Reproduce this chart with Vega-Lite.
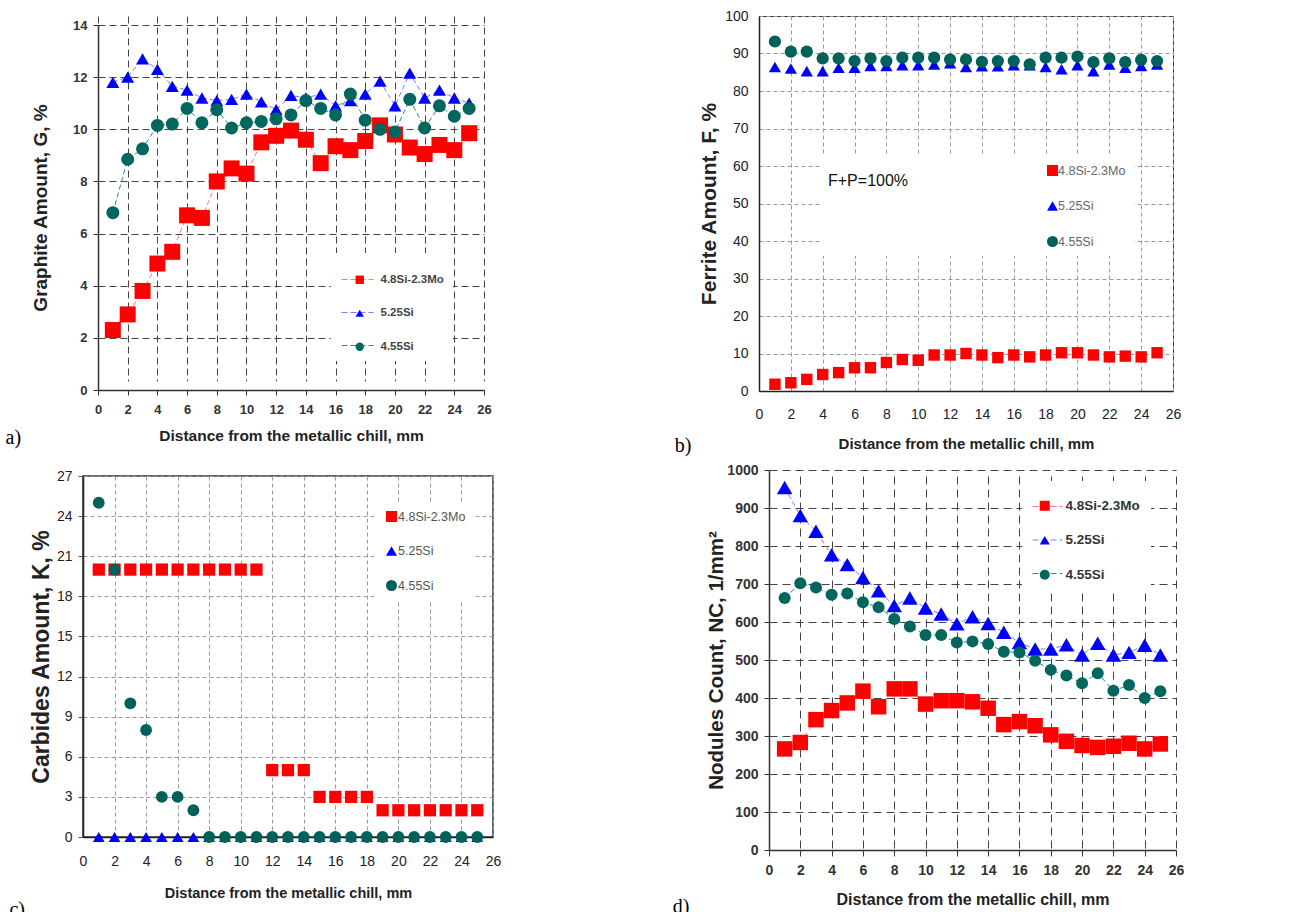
{
  "$schema": "https://vega.github.io/schema/vega-lite/v6.json",
  "background": "white",
  "padding": {"left": 5, "top": 8, "right": 0, "bottom": 0},
  "datasets": {
    "ga": [
      {"d":1,"s":"4.8Si-2.3Mo","v":2.3},{"d":2,"s":"4.8Si-2.3Mo","v":2.9},{"d":3,"s":"4.8Si-2.3Mo","v":3.8},{"d":4,"s":"4.8Si-2.3Mo","v":4.85},{"d":5,"s":"4.8Si-2.3Mo","v":5.3},{"d":6,"s":"4.8Si-2.3Mo","v":6.7},{"d":7,"s":"4.8Si-2.3Mo","v":6.6},{"d":8,"s":"4.8Si-2.3Mo","v":8.0},{"d":9,"s":"4.8Si-2.3Mo","v":8.5},{"d":10,"s":"4.8Si-2.3Mo","v":8.3},{"d":11,"s":"4.8Si-2.3Mo","v":9.5},{"d":12,"s":"4.8Si-2.3Mo","v":9.75},{"d":13,"s":"4.8Si-2.3Mo","v":9.95},{"d":14,"s":"4.8Si-2.3Mo","v":9.6},{"d":15,"s":"4.8Si-2.3Mo","v":8.7},{"d":16,"s":"4.8Si-2.3Mo","v":9.35},{"d":17,"s":"4.8Si-2.3Mo","v":9.2},{"d":18,"s":"4.8Si-2.3Mo","v":9.55},{"d":19,"s":"4.8Si-2.3Mo","v":10.15},{"d":20,"s":"4.8Si-2.3Mo","v":9.8},{"d":21,"s":"4.8Si-2.3Mo","v":9.3},{"d":22,"s":"4.8Si-2.3Mo","v":9.05},{"d":23,"s":"4.8Si-2.3Mo","v":9.4},{"d":24,"s":"4.8Si-2.3Mo","v":9.2},{"d":25,"s":"4.8Si-2.3Mo","v":9.85},
      {"d":1,"s":"5.25Si","v":11.8},{"d":2,"s":"5.25Si","v":12.0},{"d":3,"s":"5.25Si","v":12.7},{"d":4,"s":"5.25Si","v":12.3},{"d":5,"s":"5.25Si","v":11.65},{"d":6,"s":"5.25Si","v":11.5},{"d":7,"s":"5.25Si","v":11.2},{"d":8,"s":"5.25Si","v":11.1},{"d":9,"s":"5.25Si","v":11.15},{"d":10,"s":"5.25Si","v":11.35},{"d":11,"s":"5.25Si","v":11.05},{"d":12,"s":"5.25Si","v":10.75},{"d":13,"s":"5.25Si","v":11.3},{"d":14,"s":"5.25Si","v":11.2},{"d":15,"s":"5.25Si","v":11.35},{"d":16,"s":"5.25Si","v":10.9},{"d":17,"s":"5.25Si","v":11.1},{"d":18,"s":"5.25Si","v":11.35},{"d":19,"s":"5.25Si","v":11.85},{"d":20,"s":"5.25Si","v":10.9},{"d":21,"s":"5.25Si","v":12.15},{"d":22,"s":"5.25Si","v":11.2},{"d":23,"s":"5.25Si","v":11.5},{"d":24,"s":"5.25Si","v":11.2},{"d":25,"s":"5.25Si","v":11.0},
      {"d":1,"s":"4.55Si","v":6.8},{"d":2,"s":"4.55Si","v":8.85},{"d":3,"s":"4.55Si","v":9.25},{"d":4,"s":"4.55Si","v":10.15},{"d":5,"s":"4.55Si","v":10.2},{"d":6,"s":"4.55Si","v":10.8},{"d":7,"s":"4.55Si","v":10.25},{"d":8,"s":"4.55Si","v":10.75},{"d":9,"s":"4.55Si","v":10.05},{"d":10,"s":"4.55Si","v":10.25},{"d":11,"s":"4.55Si","v":10.3},{"d":12,"s":"4.55Si","v":10.4},{"d":13,"s":"4.55Si","v":10.55},{"d":14,"s":"4.55Si","v":11.1},{"d":15,"s":"4.55Si","v":10.8},{"d":16,"s":"4.55Si","v":10.55},{"d":17,"s":"4.55Si","v":11.35},{"d":18,"s":"4.55Si","v":10.35},{"d":19,"s":"4.55Si","v":10.0},{"d":20,"s":"4.55Si","v":9.9},{"d":21,"s":"4.55Si","v":11.15},{"d":22,"s":"4.55Si","v":10.05},{"d":23,"s":"4.55Si","v":10.9},{"d":24,"s":"4.55Si","v":10.5},{"d":25,"s":"4.55Si","v":10.8}
    ],
    "fe": [
      {"d":1,"s":"4.8Si-2.3Mo","v":1.8},{"d":2,"s":"4.8Si-2.3Mo","v":2.2},{"d":3,"s":"4.8Si-2.3Mo","v":3.1},{"d":4,"s":"4.8Si-2.3Mo","v":4.4},{"d":5,"s":"4.8Si-2.3Mo","v":4.9},{"d":6,"s":"4.8Si-2.3Mo","v":6.2},{"d":7,"s":"4.8Si-2.3Mo","v":6.2},{"d":8,"s":"4.8Si-2.3Mo","v":7.6},{"d":9,"s":"4.8Si-2.3Mo","v":8.4},{"d":10,"s":"4.8Si-2.3Mo","v":8.2},{"d":11,"s":"4.8Si-2.3Mo","v":9.6},{"d":12,"s":"4.8Si-2.3Mo","v":9.6},{"d":13,"s":"4.8Si-2.3Mo","v":10.0},{"d":14,"s":"4.8Si-2.3Mo","v":9.6},{"d":15,"s":"4.8Si-2.3Mo","v":8.9},{"d":16,"s":"4.8Si-2.3Mo","v":9.6},{"d":17,"s":"4.8Si-2.3Mo","v":9.1},{"d":18,"s":"4.8Si-2.3Mo","v":9.6},{"d":19,"s":"4.8Si-2.3Mo","v":10.2},{"d":20,"s":"4.8Si-2.3Mo","v":10.2},{"d":21,"s":"4.8Si-2.3Mo","v":9.6},{"d":22,"s":"4.8Si-2.3Mo","v":9.1},{"d":23,"s":"4.8Si-2.3Mo","v":9.3},{"d":24,"s":"4.8Si-2.3Mo","v":9.1},{"d":25,"s":"4.8Si-2.3Mo","v":10.2},
      {"d":1,"s":"5.25Si","v":86.4},{"d":2,"s":"5.25Si","v":86.0},{"d":3,"s":"5.25Si","v":85.3},{"d":4,"s":"5.25Si","v":85.3},{"d":5,"s":"5.25Si","v":86.2},{"d":6,"s":"5.25Si","v":86.2},{"d":7,"s":"5.25Si","v":86.7},{"d":8,"s":"5.25Si","v":86.7},{"d":9,"s":"5.25Si","v":86.9},{"d":10,"s":"5.25Si","v":86.9},{"d":11,"s":"5.25Si","v":87.1},{"d":12,"s":"5.25Si","v":87.4},{"d":13,"s":"5.25Si","v":86.4},{"d":14,"s":"5.25Si","v":86.6},{"d":15,"s":"5.25Si","v":86.6},{"d":16,"s":"5.25Si","v":86.9},{"d":17,"s":"5.25Si","v":86.9},{"d":18,"s":"5.25Si","v":86.4},{"d":19,"s":"5.25Si","v":85.8},{"d":20,"s":"5.25Si","v":86.9},{"d":21,"s":"5.25Si","v":85.3},{"d":22,"s":"5.25Si","v":87.1},{"d":23,"s":"5.25Si","v":86.2},{"d":24,"s":"5.25Si","v":86.7},{"d":25,"s":"5.25Si","v":87.1},
      {"d":1,"s":"4.55Si","v":93.2},{"d":2,"s":"4.55Si","v":90.5},{"d":3,"s":"4.55Si","v":90.5},{"d":4,"s":"4.55Si","v":88.7},{"d":5,"s":"4.55Si","v":88.7},{"d":6,"s":"4.55Si","v":88.0},{"d":7,"s":"4.55Si","v":88.7},{"d":8,"s":"4.55Si","v":88.0},{"d":9,"s":"4.55Si","v":88.9},{"d":10,"s":"4.55Si","v":88.9},{"d":11,"s":"4.55Si","v":88.9},{"d":12,"s":"4.55Si","v":88.4},{"d":13,"s":"4.55Si","v":88.4},{"d":14,"s":"4.55Si","v":87.8},{"d":15,"s":"4.55Si","v":88.0},{"d":16,"s":"4.55Si","v":88.0},{"d":17,"s":"4.55Si","v":87.1},{"d":18,"s":"4.55Si","v":88.9},{"d":19,"s":"4.55Si","v":88.9},{"d":20,"s":"4.55Si","v":89.2},{"d":21,"s":"4.55Si","v":87.7},{"d":22,"s":"4.55Si","v":88.7},{"d":23,"s":"4.55Si","v":87.7},{"d":24,"s":"4.55Si","v":88.3},{"d":25,"s":"4.55Si","v":88.0}
    ],
    "ca": [
      {"d":1,"s":"4.8Si-2.3Mo","v":20},{"d":2,"s":"4.8Si-2.3Mo","v":20},{"d":3,"s":"4.8Si-2.3Mo","v":20},{"d":4,"s":"4.8Si-2.3Mo","v":20},{"d":5,"s":"4.8Si-2.3Mo","v":20},{"d":6,"s":"4.8Si-2.3Mo","v":20},{"d":7,"s":"4.8Si-2.3Mo","v":20},{"d":8,"s":"4.8Si-2.3Mo","v":20},{"d":9,"s":"4.8Si-2.3Mo","v":20},{"d":10,"s":"4.8Si-2.3Mo","v":20},{"d":11,"s":"4.8Si-2.3Mo","v":20},{"d":12,"s":"4.8Si-2.3Mo","v":5},{"d":13,"s":"4.8Si-2.3Mo","v":5},{"d":14,"s":"4.8Si-2.3Mo","v":5},{"d":15,"s":"4.8Si-2.3Mo","v":3},{"d":16,"s":"4.8Si-2.3Mo","v":3},{"d":17,"s":"4.8Si-2.3Mo","v":3},{"d":18,"s":"4.8Si-2.3Mo","v":3},{"d":19,"s":"4.8Si-2.3Mo","v":2},{"d":20,"s":"4.8Si-2.3Mo","v":2},{"d":21,"s":"4.8Si-2.3Mo","v":2},{"d":22,"s":"4.8Si-2.3Mo","v":2},{"d":23,"s":"4.8Si-2.3Mo","v":2},{"d":24,"s":"4.8Si-2.3Mo","v":2},{"d":25,"s":"4.8Si-2.3Mo","v":2},
      {"d":1,"s":"5.25Si","v":0},{"d":2,"s":"5.25Si","v":0},{"d":3,"s":"5.25Si","v":0},{"d":4,"s":"5.25Si","v":0},{"d":5,"s":"5.25Si","v":0},{"d":6,"s":"5.25Si","v":0},{"d":7,"s":"5.25Si","v":0},{"d":8,"s":"5.25Si","v":0},{"d":9,"s":"5.25Si","v":0},{"d":10,"s":"5.25Si","v":0},{"d":11,"s":"5.25Si","v":0},{"d":12,"s":"5.25Si","v":0},{"d":13,"s":"5.25Si","v":0},{"d":14,"s":"5.25Si","v":0},{"d":15,"s":"5.25Si","v":0},{"d":16,"s":"5.25Si","v":0},{"d":17,"s":"5.25Si","v":0},{"d":18,"s":"5.25Si","v":0},{"d":19,"s":"5.25Si","v":0},{"d":20,"s":"5.25Si","v":0},{"d":21,"s":"5.25Si","v":0},{"d":22,"s":"5.25Si","v":0},{"d":23,"s":"5.25Si","v":0},{"d":24,"s":"5.25Si","v":0},{"d":25,"s":"5.25Si","v":0},
      {"d":1,"s":"4.55Si","v":25},{"d":2,"s":"4.55Si","v":20},{"d":3,"s":"4.55Si","v":10},{"d":4,"s":"4.55Si","v":8},{"d":5,"s":"4.55Si","v":3},{"d":6,"s":"4.55Si","v":3},{"d":7,"s":"4.55Si","v":2},{"d":8,"s":"4.55Si","v":0},{"d":9,"s":"4.55Si","v":0},{"d":10,"s":"4.55Si","v":0},{"d":11,"s":"4.55Si","v":0},{"d":12,"s":"4.55Si","v":0},{"d":13,"s":"4.55Si","v":0},{"d":14,"s":"4.55Si","v":0},{"d":15,"s":"4.55Si","v":0},{"d":16,"s":"4.55Si","v":0},{"d":17,"s":"4.55Si","v":0},{"d":18,"s":"4.55Si","v":0},{"d":19,"s":"4.55Si","v":0},{"d":20,"s":"4.55Si","v":0},{"d":21,"s":"4.55Si","v":0},{"d":22,"s":"4.55Si","v":0},{"d":23,"s":"4.55Si","v":0},{"d":24,"s":"4.55Si","v":0},{"d":25,"s":"4.55Si","v":0}
    ],
    "nc": [
      {"d":1,"s":"4.8Si-2.3Mo","v":266},{"d":2,"s":"4.8Si-2.3Mo","v":283},{"d":3,"s":"4.8Si-2.3Mo","v":343},{"d":4,"s":"4.8Si-2.3Mo","v":367},{"d":5,"s":"4.8Si-2.3Mo","v":387},{"d":6,"s":"4.8Si-2.3Mo","v":418},{"d":7,"s":"4.8Si-2.3Mo","v":377},{"d":8,"s":"4.8Si-2.3Mo","v":424},{"d":9,"s":"4.8Si-2.3Mo","v":424},{"d":10,"s":"4.8Si-2.3Mo","v":384},{"d":11,"s":"4.8Si-2.3Mo","v":393},{"d":12,"s":"4.8Si-2.3Mo","v":393},{"d":13,"s":"4.8Si-2.3Mo","v":390},{"d":14,"s":"4.8Si-2.3Mo","v":373},{"d":15,"s":"4.8Si-2.3Mo","v":330},{"d":16,"s":"4.8Si-2.3Mo","v":338},{"d":17,"s":"4.8Si-2.3Mo","v":327},{"d":18,"s":"4.8Si-2.3Mo","v":303},{"d":19,"s":"4.8Si-2.3Mo","v":286},{"d":20,"s":"4.8Si-2.3Mo","v":275},{"d":21,"s":"4.8Si-2.3Mo","v":270},{"d":22,"s":"4.8Si-2.3Mo","v":273},{"d":23,"s":"4.8Si-2.3Mo","v":281},{"d":24,"s":"4.8Si-2.3Mo","v":266},{"d":25,"s":"4.8Si-2.3Mo","v":279},
      {"d":1,"s":"5.25Si","v":954},{"d":2,"s":"5.25Si","v":880},{"d":3,"s":"5.25Si","v":839},{"d":4,"s":"5.25Si","v":777},{"d":5,"s":"5.25Si","v":751},{"d":6,"s":"5.25Si","v":717},{"d":7,"s":"5.25Si","v":682},{"d":8,"s":"5.25Si","v":643},{"d":9,"s":"5.25Si","v":663},{"d":10,"s":"5.25Si","v":637},{"d":11,"s":"5.25Si","v":621},{"d":12,"s":"5.25Si","v":595},{"d":13,"s":"5.25Si","v":614},{"d":14,"s":"5.25Si","v":596},{"d":15,"s":"5.25Si","v":573},{"d":16,"s":"5.25Si","v":546},{"d":17,"s":"5.25Si","v":529},{"d":18,"s":"5.25Si","v":529},{"d":19,"s":"5.25Si","v":540},{"d":20,"s":"5.25Si","v":513},{"d":21,"s":"5.25Si","v":544},{"d":22,"s":"5.25Si","v":513},{"d":23,"s":"5.25Si","v":520},{"d":24,"s":"5.25Si","v":539},{"d":25,"s":"5.25Si","v":513},
      {"d":1,"s":"4.55Si","v":663},{"d":2,"s":"4.55Si","v":702},{"d":3,"s":"4.55Si","v":691},{"d":4,"s":"4.55Si","v":672},{"d":5,"s":"4.55Si","v":675},{"d":6,"s":"4.55Si","v":652},{"d":7,"s":"4.55Si","v":639},{"d":8,"s":"4.55Si","v":608},{"d":9,"s":"4.55Si","v":588},{"d":10,"s":"4.55Si","v":566},{"d":11,"s":"4.55Si","v":566},{"d":12,"s":"4.55Si","v":546},{"d":13,"s":"4.55Si","v":549},{"d":14,"s":"4.55Si","v":542},{"d":15,"s":"4.55Si","v":522},{"d":16,"s":"4.55Si","v":520},{"d":17,"s":"4.55Si","v":498},{"d":18,"s":"4.55Si","v":474},{"d":19,"s":"4.55Si","v":459},{"d":20,"s":"4.55Si","v":439},{"d":21,"s":"4.55Si","v":465},{"d":22,"s":"4.55Si","v":419},{"d":23,"s":"4.55Si","v":434},{"d":24,"s":"4.55Si","v":400},{"d":25,"s":"4.55Si","v":418}
    ]
  },
  "spacing": 6,
  "resolve": {"scale": {"color": "independent", "shape": "independent", "stroke": "independent"}, "legend": {"color": "independent", "shape": "independent", "stroke": "independent"}},
  "vconcat": [
    {
      "spacing": 182,
      "resolve": {"scale": {"color": "independent", "shape": "independent", "stroke": "independent"}, "legend": {"color": "independent", "shape": "independent", "stroke": "independent"}},
      "hconcat": [
        {
          "width": 401, "height": 374,
          "view": {"stroke": null},
          "title": {"text": "a)", "orient": "bottom", "anchor": "start", "frame": "bounds", "font": "Liberation Serif", "fontSize": 20, "fontWeight": "normal", "color": "#000", "offset": 0, "dx": -26, "dy": -16},
          "data": {"name": "ga"},
          "encoding": {
            "x": {"field": "d", "type": "quantitative", "scale": {"domain": [0, 26], "nice": false, "range": [15, 401]},
              "axis": {"values": [0,2,4,6,8,10,12,14,16,18,20,22,24,26], "title": "Distance from the metallic chill, mm", "titleFontSize": 15.5, "labelFontSize": 13, "labelFontWeight": "bold", "labelColor": "#333", "labelFlush": false, "labelOverlap": false, "tickSize": 5, "labelPadding": 8, "titlePadding": 12, "gridColor": "#444", "gridDash": [7, 4], "domainColor": "#333", "domainWidth": 1.5, "tickColor": "#333"}},
            "y": {"field": "v", "type": "quantitative", "scale": {"domain": [0, 14], "nice": false, "range": [374, 9]},
              "axis": {"values": [0,2,4,6,8,10,12,14], "offset": -15, "title": "Graphite Amount, G, %", "titleFontSize": 19, "labelFontSize": 13, "labelFontWeight": "bold", "labelColor": "#333", "labelOverlap": false, "tickSize": 5, "labelPadding": 6, "titlePadding": 22, "gridColor": "#444", "gridDash": [7, 4], "domainColor": "#333", "domainWidth": 1.5, "tickColor": "#333"}}
          },
          "layer": [
            {"mark": {"type": "line", "strokeDash": [5, 3], "strokeWidth": 1},
             "encoding": {"stroke": {"field": "s", "type": "nominal", "scale": {"domain": ["4.8Si-2.3Mo", "5.25Si", "4.55Si", "-"], "range": ["#ff7a7a", "#7a7aff", "#2f8a82", "#ffffff"]},
               "legend": {"title": null, "values": ["4.8Si-2.3Mo", "5.25Si", "4.55Si"], "orient": "none", "legendX": 248, "legendY": 237, "direction": "vertical", "fillColor": "white", "padding": 10, "symbolType": "stroke", "symbolSize": 1024, "symbolStrokeWidth": 1, "symbolDash": [6, 3], "rowPadding": 11, "labelFont": "Liberation Sans", "labelFontSize": 11.5, "labelFontWeight": "bold", "labelOpacity": 0, "labelOffset": 5}}}},
            {"mark": {"type": "point", "filled": true, "opacity": 1},
             "encoding": {
               "size": {"condition": {"test": "datum.s === '4.8Si-2.3Mo'", "value": 256}, "value": 169},
               "color": {"field": "s", "type": "nominal", "scale": {"domain": ["4.8Si-2.3Mo", "5.25Si", "4.55Si"], "range": ["#ff0000", "#0000ff", "#00665e"]},
                 "legend": {"title": null, "orient": "none", "legendX": 261, "legendY": 248, "direction": "vertical", "padding": 10, "symbolSize": 70, "rowPadding": 20.5, "labelFont": "Liberation Sans", "labelFontSize": 11.5, "labelFontWeight": "bold", "labelColor": "#444", "labelOffset": 15,
                   "encode": {"symbols": {"update": {"size": {"value": 70}}}}}},
               "shape": {"field": "s", "type": "nominal", "scale": {"domain": ["4.8Si-2.3Mo", "5.25Si", "4.55Si"], "range": ["square", "triangle-up", "circle"]},
                 "legend": {"title": null, "orient": "none", "legendX": 261, "legendY": 248, "direction": "vertical", "padding": 10, "symbolSize": 70, "rowPadding": 20.5, "labelFont": "Liberation Sans", "labelFontSize": 11.5, "labelFontWeight": "bold", "labelColor": "#444", "labelOffset": 15,
                   "encode": {"symbols": {"update": {"size": {"value": 70}}}}}}
             }}
          ]
        },
        {
          "width": 414, "height": 375,
          "view": {"stroke": "#333"},
          "title": {"text": "b)", "orient": "bottom", "anchor": "start", "frame": "bounds", "font": "Liberation Serif", "fontSize": 20, "fontWeight": "normal", "color": "#000", "offset": 0, "dx": -24, "dy": -15},
          "data": {"name": "fe"},
          "encoding": {
            "x": {"field": "d", "type": "quantitative", "scale": {"domain": [0, 26], "nice": false},
              "axis": {"values": [0,2,4,6,8,10,12,14,16,18,20,22,24,26], "title": "Distance from the metallic chill, mm", "titleFontSize": 15, "labelFontSize": 14, "labelColor": "#222", "labelFlush": false, "labelOverlap": false, "tickSize": 0, "labelPadding": 16, "titlePadding": 15, "gridColor": "#999", "gridDash": [4, 3], "domainColor": "#222", "domainWidth": 1.5}},
            "y": {"field": "v", "type": "quantitative", "scale": {"domain": [0, 100], "nice": false},
              "axis": {"values": [0,10,20,30,40,50,60,70,80,90,100], "title": "Ferrite Amount, F, %", "titleFontSize": 21, "labelFontSize": 14, "labelColor": "#222", "labelOverlap": false, "tickSize": 0, "labelPadding": 11, "titlePadding": 5, "gridColor": "#999", "gridDash": [4, 3], "domainColor": "#222", "domainWidth": 1.5}}
          },
          "layer": [
            {"mark": {"type": "point", "filled": true, "opacity": 1},
             "encoding": {
               "size": {"condition": {"test": "datum.s === '4.8Si-2.3Mo'", "value": 130}, "value": 150},
               "color": {"field": "s", "type": "nominal", "scale": {"domain": ["4.8Si-2.3Mo", "5.25Si", "4.55Si"], "range": ["#ff0000", "#0000ff", "#00605a"]},
                 "legend": {"title": "F+P=100%", "titleOrient": "left", "titleAnchor": "start", "titleBaseline": "line-top", "titleLineHeight": 34, "titlePadding": 137, "titleFont": "Liberation Sans", "titleFontSize": 16, "titleFontWeight": "normal", "titleColor": "#111", "titleLimit": 300,
                   "orient": "none", "legendX": 61, "legendY": 140, "direction": "vertical", "fillColor": "white", "padding": 8, "symbolSize": 121, "rowPadding": 22.5, "labelFont": "Liberation Sans", "labelFontSize": 12.5, "labelColor": "#666", "labelOffset": -1,
                   "encode": {"symbols": {"update": {"size": {"value": 121}}}}}},
               "shape": {"field": "s", "type": "nominal", "scale": {"domain": ["4.8Si-2.3Mo", "5.25Si", "4.55Si"], "range": ["square", "triangle-up", "circle"]},
                 "legend": {"title": "F+P=100%", "titleOrient": "left", "titleAnchor": "start", "titleBaseline": "line-top", "titleLineHeight": 34, "titlePadding": 137, "titleFont": "Liberation Sans", "titleFontSize": 16, "titleFontWeight": "normal", "titleColor": "#111", "titleLimit": 300,
                   "orient": "none", "legendX": 61, "legendY": 140, "direction": "vertical", "fillColor": "white", "padding": 8, "symbolSize": 121, "rowPadding": 22.5, "labelFont": "Liberation Sans", "labelFontSize": 12.5, "labelColor": "#666", "labelOffset": -1,
                   "encode": {"symbols": {"update": {"size": {"value": 121}}}}}}
             }}
          ]
        }
      ]
    },
    {
      "spacing": 170,
      "resolve": {"scale": {"color": "independent", "shape": "independent", "stroke": "independent"}, "legend": {"color": "independent", "shape": "independent", "stroke": "independent"}},
      "hconcat": [
        {
          "width": 410, "height": 361,
          "view": {"stroke": "#333", "strokeWidth": 1.5},
          "title": {"text": "c)", "orient": "bottom", "anchor": "start", "frame": "bounds", "font": "Liberation Serif", "fontSize": 20, "fontWeight": "normal", "color": "#000", "offset": 0, "dx": -21, "dy": 0},
          "data": {"name": "ca"},
          "encoding": {
            "x": {"field": "d", "type": "quantitative", "scale": {"domain": [0, 26], "nice": false},
              "axis": {"values": [0,2,4,6,8,10,12,14,16,18,20,22,24,26], "title": "Distance from the metallic chill, mm", "titleFontSize": 14.5, "labelFontSize": 14, "labelColor": "#222", "labelFlush": false, "labelOverlap": false, "tickSize": 0, "labelPadding": 17, "titlePadding": 18, "gridColor": "#999", "gridDash": [4, 3], "domainColor": "#222", "domainWidth": 1.5}},
            "y": {"field": "v", "type": "quantitative", "scale": {"domain": [0, 27], "nice": false},
              "axis": {"values": [0,3,6,9,12,15,18,21,24,27], "title": "Carbides Amount, K, %", "titleFontSize": 23, "labelFontSize": 14, "labelColor": "#222", "labelOverlap": false, "tickSize": 5, "tickColor": "#555", "labelPadding": 6, "titlePadding": 3, "gridColor": "#999", "gridDash": [4, 3], "domainColor": "#222", "domainWidth": 1.5}}
          },
          "layer": [
            {"mark": {"type": "point", "filled": true, "opacity": 1},
             "encoding": {
               "size": {"condition": {"test": "datum.s === '4.8Si-2.3Mo'", "value": 150}, "value": 140},
               "color": {"field": "s", "type": "nominal", "scale": {"domain": ["4.8Si-2.3Mo", "5.25Si", "4.55Si"], "range": ["#ff0000", "#0000ff", "#00605a"]},
                 "legend": {"title": null, "orient": "none", "legendX": 294, "legendY": 26, "direction": "vertical", "fillColor": "white", "padding": 8, "symbolSize": 121, "rowPadding": 21.5, "labelFont": "Liberation Sans", "labelFontSize": 12.5, "labelColor": "#555", "labelOffset": 0,
                   "encode": {"symbols": {"update": {"size": {"value": 121}}}}}},
               "shape": {"field": "s", "type": "nominal", "scale": {"domain": ["4.8Si-2.3Mo", "5.25Si", "4.55Si"], "range": ["square", "triangle-up", "circle"]},
                 "legend": {"title": null, "orient": "none", "legendX": 294, "legendY": 26, "direction": "vertical", "fillColor": "white", "padding": 8, "symbolSize": 121, "rowPadding": 21.5, "labelFont": "Liberation Sans", "labelFontSize": 12.5, "labelColor": "#555", "labelOffset": 0,
                   "encode": {"symbols": {"update": {"size": {"value": 121}}}}}}
             }}
          ]
        },
        {
          "width": 407, "height": 374,
          "view": {"stroke": null},
          "title": {"text": "d)", "orient": "bottom", "anchor": "start", "frame": "bounds", "font": "Liberation Serif", "fontSize": 20, "fontWeight": "normal", "color": "#000", "offset": 0, "dx": -34, "dy": -10},
          "data": {"name": "nc"},
          "encoding": {
            "x": {"field": "d", "type": "quantitative", "scale": {"domain": [0, 26], "nice": false},
              "axis": {"values": [0,2,4,6,8,10,12,14,16,18,20,22,24,26], "title": "Distance from the metallic chill, mm", "titleFontSize": 16, "labelFontSize": 14, "labelFontWeight": "bold", "labelColor": "#333", "labelFlush": false, "labelOverlap": false, "tickSize": 5, "labelPadding": 8, "titlePadding": 14, "gridColor": "#444", "gridDash": [8, 5], "domainColor": "#333", "domainWidth": 1.5, "tickColor": "#333"}},
            "y": {"field": "v", "type": "quantitative", "scale": {"domain": [0, 1000], "nice": false, "range": [374, -6]},
              "axis": {"values": [0,100,200,300,400,500,600,700,800,900,1000], "format": "d", "title": "Nodules Count, NC, 1/mm²", "titleFontSize": 20.5, "labelFontSize": 14, "labelFontWeight": "bold", "labelColor": "#333", "labelOverlap": false, "tickSize": 5, "labelPadding": 6, "titlePadding": 0, "gridColor": "#444", "gridDash": [8, 5], "domainColor": "#333", "domainWidth": 1.5, "tickColor": "#333"}}
          },
          "layer": [
            {"mark": {"type": "line", "strokeDash": [5, 3], "strokeWidth": 1},
             "encoding": {"stroke": {"field": "s", "type": "nominal", "scale": {"domain": ["4.8Si-2.3Mo", "5.25Si", "4.55Si", "-"], "range": ["#ff7a7a", "#7a7aff", "#2f8a82", "#ffffff"]},
               "legend": {"title": null, "values": ["4.8Si-2.3Mo", "5.25Si", "4.55Si"], "orient": "none", "legendX": 253, "legendY": 5, "direction": "vertical", "fillColor": "white", "padding": 10, "symbolType": "stroke", "symbolSize": 900, "symbolStrokeWidth": 1, "symbolDash": [6, 3], "rowPadding": 11.5, "labelFont": "Liberation Sans", "labelFontSize": 13.5, "labelFontWeight": "bold", "labelOpacity": 0, "labelOffset": 3}}}},
            {"mark": {"type": "point", "filled": true, "opacity": 1},
             "encoding": {
               "size": {"condition": {"test": "datum.s === '4.55Si'", "value": 144}, "value": 240},
               "color": {"field": "s", "type": "nominal", "scale": {"domain": ["4.8Si-2.3Mo", "5.25Si", "4.55Si"], "range": ["#ff0000", "#0000ff", "#00665e"]},
                 "legend": {"title": null, "orient": "none", "legendX": 259, "legendY": 13, "direction": "vertical", "padding": 10, "symbolSize": 100, "rowPadding": 19.5, "labelFont": "Liberation Sans", "labelFontSize": 13.5, "labelFontWeight": "bold", "labelColor": "#333", "labelOffset": 14,
                   "encode": {"symbols": {"update": {"size": {"value": 100}}}}}},
               "shape": {"field": "s", "type": "nominal", "scale": {"domain": ["4.8Si-2.3Mo", "5.25Si", "4.55Si"], "range": ["square", "triangle-up", "circle"]},
                 "legend": {"title": null, "orient": "none", "legendX": 259, "legendY": 13, "direction": "vertical", "padding": 10, "symbolSize": 100, "rowPadding": 19.5, "labelFont": "Liberation Sans", "labelFontSize": 13.5, "labelFontWeight": "bold", "labelColor": "#333", "labelOffset": 14,
                   "encode": {"symbols": {"update": {"size": {"value": 100}}}}}}
             }}
          ]
        }
      ]
    }
  ],
  "config": {
    "font": "Liberation Sans",
    "axis": {"titleFontWeight": "bold", "titleColor": "#222", "labelFont": "Liberation Sans", "titleFont": "Liberation Sans", "grid": true, "gridWidth": 1, "gridOpacity": 1},
    "legend": {"labelLimit": 200}
  }
}
